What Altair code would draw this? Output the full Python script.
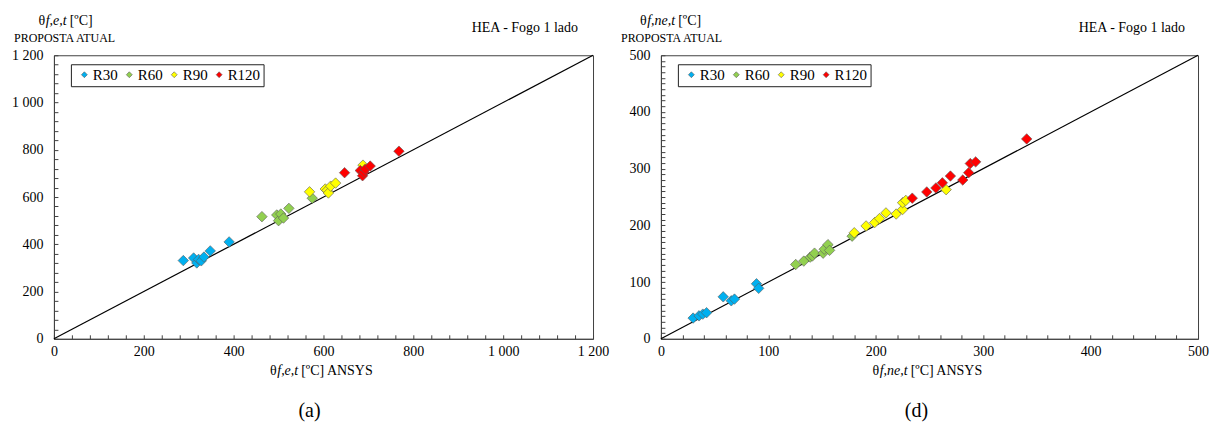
import altair as alt
import pandas as pd

SERIES = ["R30", "R60", "R90", "R120"]
COLORS = ["#00B0F0", "#92D050", "#FFFF00", "#FF0000"]

# Panel (a): theta f,e,t
a_r30_x = [288, 311, 318, 322, 328, 334, 348, 390]
a_r30_y = [331, 342, 321, 336, 330, 346, 372, 410]
a_r60_x = [463, 496, 500, 505, 511, 523, 575]
a_r60_y = [517, 524, 500, 528, 511, 552, 595]
a_r90_x = [569, 604, 608, 611, 616, 627, 688]
a_r90_y = [622, 634, 628, 617, 646, 659, 735]
a_r120_x = [647, 682, 687, 690, 693, 704, 768]
a_r120_y = [703, 712, 690, 705, 718, 731, 794]

# Panel (d): theta f,ne,t
d_r30_x = [30, 35.5, 39, 42.5, 58, 65.5, 68.5, 89, 91]
d_r30_y = [36.5, 40.5, 43.5, 46, 74, 67, 70, 97, 89]
d_r60_x = [125.5, 133, 139, 141, 143, 151, 152, 155.5, 157, 178]
d_r60_y = [131, 137, 144, 146, 151, 151, 158, 166, 156, 181]
d_r90_x = [180, 191, 199, 203.5, 209.5, 219, 225, 225, 228, 265.5]
d_r90_y = [187, 199, 205, 212, 222, 220, 228, 240, 244, 263]
d_r120_x = [234, 247.5, 256, 262, 269.5, 281, 286.5, 288, 293, 340.5]
d_r120_y = [248, 259, 266, 275, 287, 280, 293, 309, 312, 352.5]

FONT = "Liberation Serif"
FRAME = "#404040"

REG = {"θ": 0.52, " ": 0.25, "[": 0.333, "]": 0.333, "º": 0.31, "C": 0.667,
       "A": 0.722, "N": 0.722, "S": 0.556, "Y": 0.722}
ITA = {"f": 0.278, ",": 0.25, "e": 0.444, "t": 0.278, "n": 0.5}


def seg_w(s, italic, fs):
    tab = ITA if italic else REG
    return sum(tab.get(c, 0.5) for c in s) * fs + (3 if italic else 0)


def one():
    return alt.Chart(pd.DataFrame({"_": [0]}))


def rich(segments, x, y, fs, anchor="left"):
    total = sum(seg_w(s, it, fs) for s, it in segments)
    if anchor == "center":
        x = x - total / 2
    elif anchor == "right":
        x = x - total
    out = []
    for s, it in segments:
        out.append(
            one().mark_text(text=s, font=FONT, fontSize=fs, fontStyle="italic" if it else "normal",
                            align="left", baseline="middle", color="black")
            .encode(x=alt.value(x), y=alt.value(y))
        )
        x += seg_w(s, it, fs)
    return out


def plain(s, x, y, fs, align="left"):
    return (
        one().mark_text(text=s, font=FONT, fontSize=fs, align=align, baseline="middle", color="black")
        .encode(x=alt.value(x), y=alt.value(y))
    )


def pin(x, y):
    # invisible anchor that fixes the chart's outer extent
    return one().mark_rule(opacity=0, strokeWidth=0.01).encode(
        x=alt.value(x), x2=alt.value(x + 0.5), y=alt.value(y), y2=alt.value(y + 0.5))


def make_df(xs, ys):
    rows = []
    for k, (xx, yy) in enumerate(zip(xs, ys)):
        for a, b in zip(xx, yy):
            rows.append({"x": a, "y": b, "s": SERIES[k], "o": k})
    return pd.DataFrame(rows)


LBL = "replace(format(datum.value, ','), ',', ' ')"


def panel(df, vmax, major, minor_x, minor_y, W, H, sub, panel_letter, ytitle_x, first):
    sc = alt.Scale(domain=[0, vmax], nice=False, zero=True)
    common = dict(ticks=False, tickSize=0, labelExpr=LBL, title=None, domainColor=FRAME, grid=False,
                  labelFont=FONT, labelFontSize=14, labelColor="black", labelFlush=False)
    xax = alt.Axis(values=list(range(0, vmax + 1, major)), labelPadding=6, **common)
    yax = alt.Axis(values=list(range(0, vmax + 1, major)), labelPadding=11, **common)
    pts = alt.Chart(df).mark_point(shape="diamond", filled=True, opacity=1, size=110,
                                   stroke="#5a5a5a", strokeWidth=0.6).encode(
        x=alt.X("x:Q", scale=sc, axis=xax),
        y=alt.Y("y:Q", scale=sc, axis=yax),
        color=alt.Color("s:N", scale=alt.Scale(domain=SERIES, range=COLORS),
                        legend=alt.Legend(orient="none", legendX=17, legendY=9, direction="horizontal",
                                          columns=4, title=None, symbolType="diamond", symbolSize=35,
                                          symbolStrokeWidth=0.6, symbolStrokeColor="#5a5a5a",
                                          symbolOffset=3, gridAlign="none",
                                          labelFont=FONT, labelFontSize=15, labelColor="black",
                                          labelOffset=1, columnPadding=0, padding=3,
                                          strokeColor="#202020", fillColor="white")),
        order=alt.Order("o:Q"),
    )
    line_df = pd.DataFrame({"x": [0, vmax], "y": [0, vmax]})
    xin = alt.Axis(orient="top", offset=-H, values=list(range(0, vmax + 1, minor_x)), labels=False,
                   domain=False, ticks=True, tickSize=4, tickColor=FRAME, title=None, grid=False)
    yin = alt.Axis(orient="right", offset=-W, values=list(range(0, vmax + 1, minor_y)), labels=False,
                   domain=False, ticks=True, tickSize=4, tickColor=FRAME, title=None, grid=False)
    diag = alt.Chart(line_df).mark_line(color="black", strokeWidth=1.2).encode(
        x=alt.X("x:Q", scale=sc, axis=xin),
        y=alt.Y("y:Q", scale=sc, axis=yin),
    )
    texts = []
    texts += rich([("θ", False), (sub, True), (" [ºC]", False)], ytitle_x, -34, 14)
    texts.append(plain("PROPOSTA ATUAL", -40, -17, 12))
    texts.append(plain("HEA - Fogo 1 lado", 525, -27, 14, align="right"))
    texts += rich([("θ", False), (sub, True), (" [ºC] ANSYS", False)], W / 2, H + 32, 14, anchor="center")
    texts.append(plain(panel_letter, 256, H + 72, 20, align="center"))
    if first:
        texts.append(pin(-45, -46))
    return alt.layer(diag, pts, *texts).resolve_axis(x="independent", y="independent").properties(
        width=W, height=H)


H = 284
pa = panel(make_df([a_r30_x, a_r60_x, a_r90_x, a_r120_x], [a_r30_y, a_r60_y, a_r90_y, a_r120_y]),
           1200, 200, 40, 40, 540, H, "f,e,t", "(a)", -15.5, True)
pd_ = panel(make_df([d_r30_x, d_r60_x, d_r90_x, d_r120_x], [d_r30_y, d_r60_y, d_r90_y, d_r120_y]),
            500, 100, 20, 10, 538, H, "f,ne,t", "(d)", -21, False)

chart = alt.hconcat(pa, pd_, spacing=68, bounds="flush").resolve_scale(color="independent").resolve_legend(
    color="independent").properties(
    padding={"left": 0, "top": 0, "right": 0, "bottom": 0}, background="white",
).configure(padding={"left": 0, "top": 0, "right": 0, "bottom": 0}).configure_view(
    stroke=FRAME, strokeWidth=1).configure_axis(
    labelFont=FONT, labelFontSize=14, labelColor="black", domainColor=FRAME
)

chart.save("out.html", embed_options={"renderer": "svg", "actions": False})
